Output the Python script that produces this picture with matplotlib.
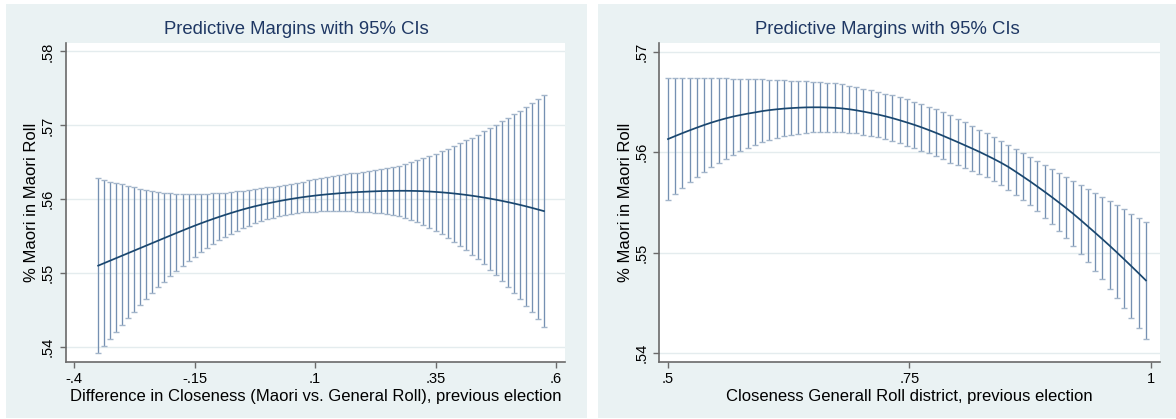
import matplotlib
matplotlib.use("Agg")
import matplotlib.pyplot as plt
from matplotlib.patches import Rectangle

# ---- data: left panel (difference in closeness) ----
left_x = [-0.35, -0.3375, -0.325, -0.3125, -0.3, -0.2875, -0.275, -0.2625, -0.25, -0.2375,
          -0.225, -0.2125, -0.2, -0.1875, -0.175, -0.1625, -0.15, -0.1375, -0.125, -0.1125,
          -0.1, -0.0875, -0.075, -0.0625, -0.05, -0.0375, -0.025, -0.0125, 0.0, 0.0125,
          0.025, 0.0375, 0.05, 0.0625, 0.075, 0.0875, 0.1, 0.1125, 0.125, 0.1375,
          0.15, 0.1625, 0.175, 0.1875, 0.2, 0.2125, 0.225, 0.2375, 0.25, 0.2625,
          0.275, 0.2875, 0.3, 0.3125, 0.325, 0.3375, 0.35, 0.3625, 0.375, 0.3875,
          0.4, 0.4125, 0.425, 0.4375, 0.45, 0.4625, 0.475, 0.4875, 0.5, 0.5125,
          0.525, 0.5375, 0.55, 0.5625, 0.575]
left_mean = [.55102, .55136, .55170, .55204, .55238, .55272, .55306, .55340, .55374, .55408,
             .55442, .55476, .55510, .55544, .55577, .55610, .55642, .55673, .55703, .55732,
             .55760, .55787, .55813, .55838, .55862, .55884, .55905, .55924, .55942, .55959,
             .55975, .55990, .56004, .56017, .56029, .56040, .56050, .56059, .56067, .56074,
             .56081, .56087, .56092, .56097, .56101, .56105, .56108, .56111, .56113, .56114,
             .56115, .56115, .56114, .56112, .56109, .56105, .56100, .56094, .56087, .56079,
             .56070, .56060, .56049, .56037, .56024, .56010, .55995, .55979, .55962, .55944,
             .55925, .55905, .55884, .55862, .55840]
left_upper = [.56284, .56261, .56238, .56221, .56203, .56184, .56162, .56143, .56126, .56112,
              .56099, .56088, .56081, .56076, .56072, .56072, .56072, .56072, .56076, .56081,
              .56085, .56089, .56099, .56108, .56116, .56126, .56139, .56149, .56162, .56171,
              .56184, .56198, .56211, .56225, .56238, .56257, .56271, .56284, .56302, .56314,
              .56326, .56338, .56350, .56362, .56374, .56386, .56397, .56409, .56421, .56436,
              .56455, .56478, .56501, .56528, .56555, .56586, .56617, .56650, .56685, .56721,
              .56758, .56798, .56834, .56874, .56920, .56961, .57005, .57055, .57104, .57150,
              .57199, .57253, .57303, .57357, .57415]
left_lower = [.53915, .54014, .54111, .54206, .54299, .54390, .54478, .54564, .54647, .54728,
              .54807, .54883, .54956, .55026, .55094, .55159, .55222, .55282, .55339, .55393,
              .55444, .55491, .55534, .55574, .55611, .55645, .55676, .55704, .55729, .55751,
              .55770, .55786, .55800, .55812, .55822, .55829, .55834, .55837, .55839, .55840,
              .55840, .55839, .55837, .55834, .55830, .55825, .55818, .55810, .55800, .55789,
              .55772, .55750, .55724, .55692, .55655, .55616, .55575, .55526, .55476, .55422,
              .55368, .55310, .55250, .55188, .55120, .55043, .54971, .54894, .54813, .54731,
              .54647, .54556, .54471, .54377, .54276]

# ---- data: right panel (closeness general roll district) ----
right_x = [0.5, 0.5075, 0.515, 0.5225, 0.53, 0.5375, 0.545, 0.5525, 0.56, 0.5675,
           0.575, 0.5825, 0.59, 0.5975, 0.605, 0.6125, 0.62, 0.6275, 0.635, 0.6425,
           0.65, 0.6575, 0.665, 0.6725, 0.68, 0.6875, 0.695, 0.7025, 0.71, 0.7175,
           0.725, 0.7325, 0.74, 0.7475, 0.755, 0.7625, 0.77, 0.7775, 0.785, 0.7925,
           0.8, 0.8075, 0.815, 0.8225, 0.83, 0.8375, 0.845, 0.8525, 0.86, 0.8675,
           0.875, 0.8825, 0.89, 0.8975, 0.905, 0.9125, 0.92, 0.9275, 0.935, 0.9425,
           0.95, 0.9575, 0.965, 0.9725, 0.98, 0.9875, 0.995]
right_mean = [.56132, .56162, .56191, .56219, .56246, .56272, .56296, .56318, .56338, .56356,
              .56371, .56385, .56397, .56410, .56420, .56428, .56435, .56440, .56444, .56447,
              .56448, .56448, .56446, .56443, .56437, .56429, .56418, .56405, .56391, .56376,
              .56359, .56340, .56319, .56297, .56274, .56249, .56222, .56194, .56164, .56133,
              .56102, .56070, .56038, .56005, .55970, .55934, .55896, .55855, .55808, .55760,
              .55711, .55660, .55608, .55555, .55500, .55444, .55386, .55325, .55262, .55199,
              .55135, .55070, .55003, .54935, .54866, .54796, .54725]
right_upper = [.56742, .56742, .56741, .56740, .56739, .56738, .56737, .56736, .56735, .56734,
               .56733, .56731, .56728, .56725, .56722, .56719, .56716, .56713, .56710, .56706,
               .56703, .56699, .56693, .56686, .56675, .56662, .56648, .56634, .56619, .56602,
               .56585, .56568, .56548, .56527, .56505, .56481, .56455, .56428, .56398, .56368,
               .56334, .56299, .56265, .56225, .56189, .56149, .56112, .56073, .56030, .55990,
               .55950, .55910, .55871, .55831, .55791, .55751, .55711, .55672, .55632, .55592,
               .55552, .55512, .55473, .55433, .55389, .55349, .55306]
right_lower = [.55522, .55582, .55645, .55701, .55754, .55804, .55851, .55894, .55933, .55973,
               .56010, .56043, .56073, .56099, .56122, .56142, .56159, .56172, .56185, .56192,
               .56199, .56200, .56199, .56200, .56199, .56196, .56189, .56177, .56163, .56150,
               .56133, .56112, .56090, .56067, .56043, .56017, .55989, .55960, .55930, .55898,
               .55870, .55841, .55811, .55785, .55757, .55717, .55675, .55625, .55578, .55525,
               .55473, .55416, .55349, .55284, .55214, .55144, .55068, .54988, .54905, .54822,
               .54736, .54643, .54550, .54454, .54352, .54249, .54143]

title = "Predictive Margins with 95% CIs"
ylabel = "% Maori in Maori Roll"
left_xlabel = "Difference in Closeness (Maori vs. General Roll), previous election"
right_xlabel = "Closeness Generall Roll district, previous election"
left_xticks = [-0.4, -0.15, 0.1, 0.35, 0.6]
left_xticklabels = ["-.4", "-.15", ".1", ".35", ".6"]
left_yticks = [0.54, 0.55, 0.56, 0.57, 0.58]
left_yticklabels = [".54", ".55", ".56", ".57", ".58"]
right_xticks = [0.5, 0.75, 1.0]
right_xticklabels = [".5", ".75", "1"]
right_yticks = [0.54, 0.55, 0.56, 0.57]
right_yticklabels = [".54", ".55", ".56", ".57"]

# ---- style ----
plt.rcParams['font.family'] = ['Liberation Sans', 'DejaVu Sans']
BG = '#eaf2f3'
BAR = '#7590b2'
CAP = '#a3b5ca'
LINE = '#1a476f'
GRID = '#e4ecee'
AXC = '#6a6a6a'
TITLE_C = '#1f3864'

W, H = 1176, 419
fig = plt.figure(figsize=(W / 100, H / 100), dpi=100, facecolor='white')

# panel backgrounds (behind the axes)
fig.patches.append(Rectangle((6 / W, 1 / H), 581 / W, 414 / H, transform=fig.transFigure,
                             facecolor=BG, edgecolor='none', zorder=-10))
fig.patches.append(Rectangle((598 / W, 1 / H), 578 / W, 414 / H, transform=fig.transFigure,
                             facecolor=BG, edgecolor='none', zorder=-10))


def draw_panel(rect, x, mean, lo, hi, xticks, xticklabels, yticks, yticklabels,
               xlim, ylim, xlabel, title_x, ylabel_x):
    ax = fig.add_axes(rect)
    ax.set_facecolor('white')
    ax.vlines(x, lo, hi, color=BAR, lw=0.95, zorder=2)
    ax.plot(x, lo, ls='none', marker='_', ms=5, mew=1.0, color=CAP, zorder=3)
    ax.plot(x, hi, ls='none', marker='_', ms=5, mew=1.0, color=CAP, zorder=3)
    ax.plot(x, mean, color=LINE, lw=1.25, zorder=4)

    ax.set_xlim(*xlim)
    ax.set_ylim(*ylim)
    ax.set_xticks(xticks)
    ax.set_xticklabels(xticklabels)
    ax.set_yticks(yticks)
    ax.set_yticklabels(yticklabels, rotation=90, va='center')
    ax.yaxis.grid(True, color=GRID, lw=1.0)
    ax.set_axisbelow(True)

    for s in ['top', 'right']:
        ax.spines[s].set_visible(False)
    for s in ['left', 'bottom']:
        ax.spines[s].set_color(AXC)
        ax.spines[s].set_linewidth(1.2)
    ax.tick_params(axis='both', colors=AXC, length=4.5, width=1.0, labelsize=10.5,
                   labelcolor='black')
    ax.tick_params(axis='x', pad=3)
    ax.tick_params(axis='y', pad=3)

    fig.text(title_x, 1 - 29 / H, title, ha='center', va='center', fontsize=13.3,
             color=TITLE_C)
    fig.text(rect[0] + rect[2] / 2, 1 - 396 / H, xlabel, ha='center', va='center',
             fontsize=12, color='black')
    fig.text(ylabel_x, rect[1] + rect[3] / 2, ylabel, ha='center', va='center',
             rotation=90, fontsize=12, color='black')
    return ax


bottom = (H - 362) / H
height = (362 - 43) / H

draw_panel([65.5 / W, bottom, (565 - 65.5) / W, height],
           left_x, left_mean, left_lower, left_upper,
           left_xticks, left_xticklabels, left_yticks, left_yticklabels,
           (-0.4178, 0.6187), (0.53798, 0.58115), left_xlabel,
           296.5 / W, 31.5 / W)

draw_panel([659 / W, bottom, (1160 - 659) / W, height],
           right_x, right_mean, right_lower, right_upper,
           right_xticks, right_xticklabels, right_yticks, right_yticklabels,
           (0.4907, 1.0096), (0.53913, 0.57088), right_xlabel,
           887 / W, 625.5 / W)

fig.savefig('out.png', dpi=100, facecolor='white')
